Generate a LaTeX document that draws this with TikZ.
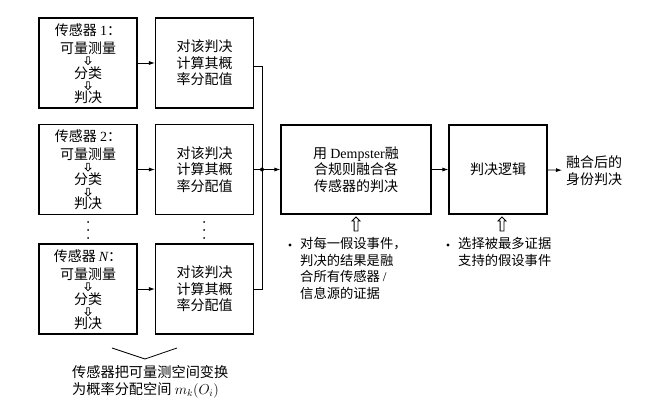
\documentclass[tikz,border=0pt]{standalone}
\usepackage{fontspec}
\setmainfont{Noto Sans CJK SC}
\newfontfamily\lat{Liberation Serif}
\usetikzlibrary{shapes.arrows,arrows.meta}
\newcommand\sensorbox[3]{%
 \node[box] (#1) at (88,#2) {};
 \node[ltxt] (#1a) at ([yshift=33pt]#1.center) {传感器 #3：};
 \node[ltxt] (#1b) at ([yshift=15pt]#1.center) {可量测量};
 \node[sarrow] (#1c) at ([yshift=3pt]#1.center) {};
 \node[ltxt] (#1d) at ([yshift=-10pt]#1.center) {分类};
 \node[sarrow] (#1e) at ([yshift=-22pt]#1.center) {};
 \node[ltxt] (#1f) at ([yshift=-34pt]#1.center) {判决};
}
\begin{document}
\begin{tikzpicture}[x=1pt,y=-1pt,
 box/.style={draw,line width=1.1pt,minimum width=98pt,minimum height=90pt,inner sep=0,align=center,font=\fontsize{14}{16.5}\selectfont},
 ltxt/.style={inner sep=0,font=\fontsize{14}{16}\selectfont},
 btxt/.style={anchor=north west,align=left,inner sep=0,font=\fontsize{13.3}{16.5}\selectfont},
 conn/.style={line width=0.8pt},
 arr/.style={conn,-{Latex[length=6pt,width=4pt]}},
 bul/.style={circle,fill,inner sep=1.1pt},
 sarrow/.style={single arrow,draw,line width=0.7pt,shape border rotate=270,minimum height=8pt,inner sep=1pt,single arrow head extend=1.6pt},
 hollow/.style={single arrow,draw,line width=0.8pt,shape border rotate=90,minimum height=14pt,inner sep=1.5pt,single arrow head extend=2pt}]
\useasboundingbox (0,0) rectangle (654,401);
% sensor boxes
\sensorbox{s1}{63}{{\lat 1}}
\sensorbox{s2}{169.5}{{\lat 2}}
\sensorbox{sN}{289}{{\lat\itshape N}}
% probability boxes
\node[box] (p1) at (204.5,63) {对该判决\\计算其概\\率分配值};
\node[box] (p2) at (204.5,169.5) {对该判决\\计算其概\\率分配值};
\node[box] (pN) at (204.5,289) {对该判决\\计算其概\\率分配值};
% dots
\foreach \yy in {222,230,238}{\fill (88,\yy) circle (1pt); \fill (204,\yy) circle (1pt);}
% fusion and logic
\node[box,minimum width=150pt,minimum height=89pt] (d) at (356,169.5) {用 {\lat Dempster}融\\合规则融合各\\传感器的判决};
\node[box,minimum height=89pt] (l) at (498,169.5) {判决逻辑};
\node[anchor=west,align=left,inner sep=4pt,font=\fontsize{14}{17}\selectfont] (o) at (562,170.5) {融合后的\\身份判决};
% connectors
\draw[arr] (s1) -- (p1);
\draw[arr] (s2) -- (p2);
\draw[arr] (sN) -- (pN);
\coordinate (j) at (262,169.5);
\draw[conn] ([yshift=-3pt]p1.east) -| (j);
\draw[conn] (pN.east) -| (j);
\draw[conn] (p2.east) -- (j);
\fill (j) circle (2pt);
\draw[arr] (j) -- (d);
\draw[arr] (d) -- (l);
\draw[arr] (l) -- (o);
% hollow arrows
\node[hollow] (h1) at (356,225) {};
\node[hollow] (h2) at (502,225) {};
% bullet texts
\node[bul] (b1) at (290,245) {};
\node[btxt] (b1t) at (300,237.5) {对每一假设事件，\\判决的结果是融\\合所有传感器 {\lat /}\\信息源的证据};
\node[bul] (b2) at (448,245) {};
\node[btxt] (b2t) at (458,237.5) {选择被最多证据\\支持的假设事件};
% brace
\coordinate (va) at (112,348);
\coordinate (vb) at (145,359);
\coordinate (vc) at (177,348);
\draw[conn] (va) -- (vb) -- (vc);
\node[anchor=north west,align=left,inner sep=0,font=\fontsize{14.2}{17}\selectfont] (bt) at (72,365) {传感器把可量测空间变换\\为概率分配空间 $m_k(O_i)$};
\end{tikzpicture}
\end{document}
